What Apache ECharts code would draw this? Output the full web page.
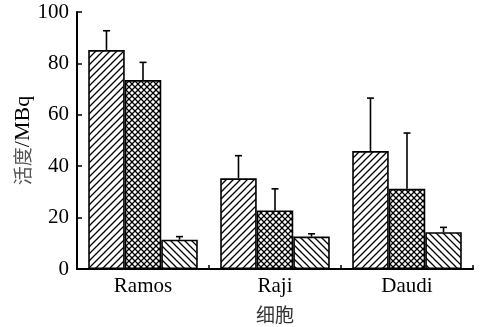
<!DOCTYPE html>
<html>
<head>
<meta charset="utf-8">
<script src="https://cdn.jsdelivr.net/npm/echarts@6/dist/echarts.min.js"></script>
<style>
  html, body { margin: 0; padding: 0; background: #fff; }
  #chart { width: 483px; height: 327px; }
</style>
</head>
<body>
<div id="chart"></div>
<script>
// Cell lines on the x axis
var categories = ['Ramos', 'Raji', 'Daudi'];
// Mean activity (MBq) for the three groups
var groupA = [85.2, 35.3, 45.9];
var groupB = [73.5, 22.8, 31.2];
var groupC = [11.4, 12.6, 14.3];
// Standard deviations (upper error bars)
var errA = [7.5, 8.8, 20.6];
var errB = [6.9, 8.4, 21.7];
var errC = [1.2, 1.1, 1.9];
// Y axis ticks
var yTicks = [0, 20, 40, 60, 80, 100];

var SERIF = '"Liberation Serif", "DejaVu Serif", serif';
var CJK = '"Noto Sans CJK SC", sans-serif';

// Hatch fill tiles
function hatch(kind) {
  var s = kind === 'cross' ? 6 : 7;
  var c = document.createElement('canvas');
  c.width = s; c.height = s;
  var g = c.getContext('2d');
  g.fillStyle = '#fff';
  g.fillRect(0, 0, s, s);
  g.strokeStyle = '#000';
  g.lineWidth = 1.3;
  function fwd() {
    g.beginPath();
    g.moveTo(-1, s + 1); g.lineTo(s + 1, -1);
    g.moveTo(-1, 1); g.lineTo(1, -1);
    g.moveTo(s - 1, s + 1); g.lineTo(s + 1, s - 1);
    g.stroke();
  }
  function back() {
    g.beginPath();
    g.moveTo(-1, -1); g.lineTo(s + 1, s + 1);
    g.moveTo(s - 1, -1); g.lineTo(s + 1, 1);
    g.moveTo(-1, s - 1); g.lineTo(1, s + 1);
    g.stroke();
  }
  if (kind === 'fwd') fwd();
  else if (kind === 'back') back();
  else { fwd(); back(); }
  return { image: c, repeat: 'repeat' };
}

var GAP = 0.17; // barCategoryGap fraction
var groups = [
  { name: 'A', data: groupA, err: errA, fill: hatch('fwd') },
  { name: 'B', data: groupB, err: errB, fill: hatch('cross') },
  { name: 'C', data: groupC, err: errC, fill: hatch('back') }
];

var series = [];
groups.forEach(function (grp) {
  series.push({
    name: grp.name,
    type: 'bar',
    data: grp.data,
    barGap: '0%',
    barCategoryGap: (GAP * 100) + '%',
    itemStyle: { color: grp.fill, borderColor: '#000', borderWidth: 1.6 },
    z: 2
  });
});

// Error bars drawn on top of the bars
groups.forEach(function (grp, gi) {
  series.push({
    type: 'custom',
    z: 3,
    data: grp.data.map(function (v, i) { return [i, v, v + grp.err[i]]; }),
    renderItem: function (params, api) {
      var band = api.size([1, 0])[0];
      var bw = band * (1 - GAP) / groups.length;
      var base = api.coord([api.value(0), api.value(1)]);
      var top = api.coord([api.value(0), api.value(2)]);
      var x = base[0] + (gi - (groups.length - 1) / 2) * bw;
      var cap = 3.5;
      return {
        type: 'group',
        children: [
          { type: 'line', shape: { x1: x, y1: base[1], x2: x, y2: top[1] },
            style: { stroke: '#000', lineWidth: 1.6 } },
          { type: 'line', shape: { x1: x - cap, y1: top[1], x2: x + cap, y2: top[1] },
            style: { stroke: '#000', lineWidth: 1.6 } }
        ]
      };
    }
  });
});

var chart = echarts.init(document.getElementById('chart'));
chart.setOption({
  animation: false,
  backgroundColor: '#fff',
  grid: { left: 77, right: 10, top: 12, bottom: 58, containLabel: false, outerBoundsMode: 'none' },
  xAxis: {
    type: 'category',
    data: categories,
    name: '细胞',
    nameLocation: 'middle',
    nameGap: 36,
    nameMoveOverlap: false,
    nameTextStyle: { fontFamily: CJK, fontSize: 19, color: '#333' },
    axisLine: { lineStyle: { color: '#000', width: 2 } },
    axisTick: { show: true, inside: true, length: 4, alignWithLabel: false, lineStyle: { color: '#000', width: 1.5 } },
    axisLabel: { fontFamily: SERIF, fontSize: 21, color: '#000', margin: 7 }
  },
  yAxis: {
    type: 'value',
    min: yTicks[0],
    max: yTicks[yTicks.length - 1],
    interval: yTicks[1] - yTicks[0],
    name: '{cn|活度}{en|/MBq}',
    nameLocation: 'middle',
    nameGap: 43,
    nameMoveOverlap: false,
    nameRotate: 90,
    nameTextStyle: {
      rich: {
        cn: { fontFamily: CJK, fontSize: 19, color: '#555' },
        en: { fontFamily: SERIF, fontSize: 22, color: '#000' }
      }
    },
    splitLine: { show: false },
    axisLine: { show: true, lineStyle: { color: '#000', width: 2 } },
    axisTick: { show: true, inside: true, length: 5, lineStyle: { color: '#000', width: 1.5 } },
    axisLabel: { fontFamily: SERIF, fontSize: 21, color: '#000', margin: 8 }
  },
  series: series
});
</script>
</body>
</html>
